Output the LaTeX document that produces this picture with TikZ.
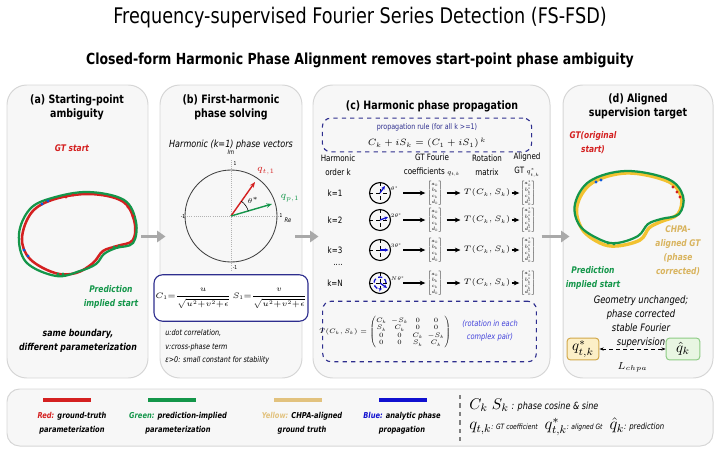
\RequirePackage{fix-cm}
\documentclass[tikz,border=0pt]{standalone}
\usepackage{amsmath}
\usepackage[no-math]{fontspec}
\setmainfont{DejaVu Sans}[FakeStretch=0.82]
\usetikzlibrary{arrows.meta,positioning,fit,calc}

\definecolor{gtred}{HTML}{D42020}
\definecolor{predgreen}{HTML}{14964A}
\definecolor{chpatan}{HTML}{E2C27E}
\definecolor{chpatext}{HTML}{D9B45E}
\definecolor{curveyellow}{HTML}{F2C230}
\definecolor{phaseblue}{HTML}{1010D0}
\definecolor{rulenavy}{HTML}{2E2E8E}
\definecolor{panelfill}{HTML}{F7F7F7}
\definecolor{panelline}{HTML}{D6D6D6}
\definecolor{flowgray}{HTML}{A9A9A9}
\definecolor{qbox}{HTML}{FCEFC7}
\definecolor{qboxline}{HTML}{D2A84A}
\definecolor{hatbox}{HTML}{E8F6E2}
\definecolor{hatboxline}{HTML}{8CCB84}

\begin{document}
\begin{tikzpicture}[
  x=0.025cm, y=-0.025cm,
  panel/.style={draw=panelline, fill=panelfill, line width=0.7pt,
                rounded corners=14pt, inner sep=0pt},
  flow/.style={-{Triangle[length=6pt,width=8pt]}, line width=2.3pt, draw=flowgray},
  headline/.style={font=\fontsize{15.3}{18}\selectfont},
  subline/.style={font=\fontsize{10.85}{13}\selectfont\bfseries},
  ptitle/.style={font=\fontsize{8.2}{9.9}\selectfont\bfseries, align=center},
  tag/.style={font=\fontsize{6.5}{9.9}\selectfont\bfseries\itshape, align=center},
  note/.style={font=\fontsize{5.6}{9.9}\selectfont\itshape, anchor=west, inner sep=0pt},
  hdr/.style={font=\fontsize{6.2}{9.9}\selectfont, align=center},
  ticklab/.style={font=\fontsize{3.8}{4}\selectfont, inner sep=0.5pt},
  redcurve/.style={draw=gtred, line width=1.8pt},
  greencurve/.style={draw=predgreen, line width=1.6pt},
  yellowcurve/.style={draw=curveyellow, line width=2.4pt},
  bead/.style={circle, inner sep=0pt, minimum size=2.4pt},
  vec/.style={-{Stealth[length=4pt,width=3.2pt]}, line width=1pt},
  refaxis/.style={draw=gray!60, densely dotted, line width=0.5pt},
  formbox/.style={draw=rulenavy, fill=white, line width=0.8pt, rounded corners=6pt,
                  minimum width=97.8pt, minimum height=33pt, inner sep=1pt},
  rulebox/.style={draw=rulenavy, dashed, line width=0.8pt, rounded corners=6pt, inner sep=0pt},
  dial/.style={circle, draw=black, line width=0.8pt, minimum size=14.9pt, inner sep=0pt},
  dialcross/.style={draw=black, densely dashed, line width=0.6pt},
  phasevec/.style={-{Stealth[length=2.6pt,width=2.4pt]}, draw=phaseblue, line width=0.9pt},
  colvec/.style={font=\fontsize{3.5}{4.3}\selectfont, inner sep=0pt},
  harmarrow/.style={-{Stealth[length=4pt,width=3.4pt]}, line width=0.9pt},
  legline/.style={line width=2.2pt},
  legtext/.style={font=\fontsize{5.8}{9.9}\selectfont\bfseries\itshape, align=center},
  lossbox/.style={draw, line width=0.7pt, rounded corners=2.5pt,
                  minimum height=15.6pt, inner sep=1pt, font=\fontsize{10.5}{11}\selectfont},
]
\useasboundingbox (0,0) rectangle (720,453);

% columns of panel (c), in pixels of the reference
\def\colK{335}
\def\colDial{380}
\def\colGT{435}
\def\colRot{487}
\def\colAl{528}

% #1 row id, #2 y, #3 order label, #4 visual angle of phase arrow, #5 angle label
\newcommand{\harmrow}[5]{%
  \node[hdr] (k#1) at (\colK,#2) {#3};
  \node[dial] (dial#1) at (\colDial,#2) {};
  \draw[dialcross] (dial#1.north) -- (dial#1.south);
  \draw[dialcross] (dial#1.west) -- (dial#1.east);
  \draw[phasevec] (dial#1.center) -- ++(-#4:8.5);
  \node[ticklab, anchor=west] (ang#1) at ($(dial#1.center)+(10,-4)$) {#5};
  \node[colvec] (gt#1) at (\colGT,#2)
        {$\begin{bmatrix}a_k\\ b_k\\ c_k\\ d_k\end{bmatrix}$};
  \node[font=\fontsize{5.6}{6}\selectfont, inner sep=0pt] (rot#1) at (\colRot,#2) {$T(C_k,S_k)$};
  \node[colvec] (al#1) at (\colAl,#2)
        {$\begin{bmatrix}a^*_k\\ b^*_k\\ c^*_k\\ d^*_k\end{bmatrix}$};
  \draw[harmarrow] ($(dial#1.east)+(12,0)$) -- ($(gt#1.west)+(-2,0)$);
  \draw[harmarrow] ($(gt#1.east)+(4,0)$) -- ($(rot#1.west)+(-3,0)$);
  \draw[harmarrow] ($(rot#1.east)+(1,0)$) -- ($(al#1.west)+(-1,0)$);
}

% titles
\node[headline] (head) at (360,18) {Frequency-supervised Fourier Series Detection (FS-FSD)};
\node[subline] (sub) at (360,60) {Closed-form Harmonic Phase Alignment removes start-point phase ambiguity};

% four panels and the legend strip
\node[panel, fit={(7,85) (148,378)}] (pa) {};
\node[panel, fit={(160,85) (302,378)}] (pb) {};
\node[panel, fit={(313,85) (550,378)}] (pc) {};
\node[panel, fit={(563,85) (713,378)}] (pd) {};
\node[panel, rounded corners=9pt, fit={(7,389) (713,446)}] (leg) {};

\draw[flow] ($(pa.east)+(-7,5)$) -- ($(pb.west)+(6,5)$);
\draw[flow] ($(pb.east)+(-7,5)$) -- ($(pc.west)+(6,5)$);
\draw[flow] ($(pc.east)+(-9,5)$) -- ($(pd.west)+(7,5)$);

% (a) starting-point ambiguity
\node[ptitle] (ta) at (77,107) {(a) Starting-point\\ambiguity};
\node[tag, text=gtred] (gtstart) at (72,148) {GT start};
\draw[redcurve] plot[smooth cycle, tension=0.6] coordinates
  {(22,238) (32,212) (55,199) (90,194) (122,201) (134,220) (133,240) (117,246)
   (103,251) (93,263) (76,273) (55,273) (30,259)};
\draw[greencurve] plot[smooth cycle, tension=0.6] coordinates
  {(19,234) (30,209) (52,198) (88,192) (124,200) (136,222) (133,243) (116,248)
   (104,254) (96,264) (80,271) (56,276) (26,262)};
\foreach \bx/\by in {42/204, 48/201, 24/250, 28/256}
  \node[bead, fill=phaseblue!70!cyan] at (\bx,\by) {};
\foreach \bx/\by in {66/197, 73/195, 128/207, 133/216}
  \node[bead, fill=gtred] at (\bx,\by) {};
\foreach \bx/\by in {58/274, 63/274, 114/247, 119/246}
  \node[bead, fill=predgreen] at (\bx,\by) {};
\node[tag, text=predgreen] (predstart) at (111,297) {Prediction\\implied start};
\node[tag, font=\fontsize{6.8}{10.3}\selectfont\bfseries\itshape] (same) at (78,341)
  {same boundary,\\different parameterization};

% (b) first-harmonic phase solving
\node[ptitle] (tb) at (231,107) {(b) First-harmonic\\phase solving};
\node[font=\fontsize{7}{8}\selectfont\itshape] (hk) at (231,145) {Harmonic (k=1) phase vectors};
\coordinate (o) at (231,216);
\draw[refaxis] (183,216) -- (281,216);
\draw[refaxis] (231,160) -- (231,271);
\draw[draw=black!75, line width=0.6pt] (o) circle[radius=46];
\node[ticklab, font=\fontsize{4.5}{5}\selectfont\itshape] (im) at (231,152) {Im};
\node[ticklab] (t1) at (235,164) {1};
\node[ticklab] (tm1) at (183,217) {-1};
\node[ticklab] (tr1) at (281,216) {1};
\node[ticklab, font=\fontsize{4.5}{5}\selectfont\itshape] (re) at (288,220) {Re};
\node[ticklab] (tb1) at (235,268) {-1};
\coordinate (qt) at (255,182);
\coordinate (qp) at (272,204);
\draw[vec, gtred] (o) -- (qt);
\draw[vec, predgreen] (o) -- (qp);
\draw[line width=0.4pt] (o) ++(-16:18) arc[start angle=-16, end angle=-55, radius=18];
\node[font=\fontsize{5}{6}\selectfont] (theta) at (253,200) {$\theta^*$};
\node[text=gtred, font=\fontsize{6.8}{8}\selectfont] (qtl) at (266,171) {$q_{t,1}$};
\node[text=predgreen, font=\fontsize{6.8}{8}\selectfont] (qpl) at (290,198) {$q_{p,1}$};
\node[formbox, font=\fontsize{5.6}{6.5}\selectfont] (fb) at (231,298)
  {$C_1{=}\dfrac{u}{\sqrt{u^2{+}v^2{+}\epsilon}}\,S_1{=}\dfrac{v}{\sqrt{u^2{+}v^2{+}\epsilon}}$};
\node[note] (nu) at (165,333) {u:dot correlation,};
\node[note] (nv) at (165,347) {v:cross-phase term};
\node[note] (ne) at (165,360) {ε>0: small constant for stability};

% (c) harmonic phase propagation
\node[ptitle] (tc) at (432,106) {(c) Harmonic phase propagation};
\node[rulebox, minimum width=148.8pt, minimum height=24pt] (rule) at (427,135) {};
\node[font=\fontsize{5.5}{6}\selectfont, text=rulenavy] (ruletxt) at (427,127)
  {propagation rule (for all k >=1)};
\node[font=\fontsize{6.5}{7.5}\selectfont] (rulemath) at (427,143) {$C_k+iS_k=(C_1+iS_1)^{\,k}$};
\node[hdr] (hk1) at (338,165) {Harmonic\\order k};
\node[hdr] (hk2) at (432,165) {GT Fourie\\coefficients {\fontsize{4.6}{5}\selectfont$q_{t,k}$}};
\node[hdr] (hk3) at (487,165) {Rotation\\matrix};
\node[hdr] (hk4) at (527,165) {Aligned\\GT {\fontsize{4.6}{5}\selectfont$q^*_{t,k}$}};
\harmrow{1}{193}{k=1}{55}{$\theta^*$}
\harmrow{2}{220}{k=2}{20}{$2\theta^*$}
\harmrow{3}{250}{k=3}{0}{$3\theta^*$}
\harmrow{N}{283}{k=N}{-35}{$N\theta^*$}
\draw[phasevec, densely dashed] ($(dialN.center)+(0:6)$) arc[start angle=0, end angle=-290, radius=6];
\node[hdr] (dots) at (338,265) {....};
\node[rulebox, minimum width=152pt, minimum height=43pt] (tbox) at (429.5,331.5) {};
\node[font=\fontsize{4.6}{5.4}\selectfont, inner sep=0pt] (tmat) at (385,332)
  {\arraycolsep=1.6pt$T(C_k,S_k)=\begin{pmatrix}C_k&-S_k&0&0\\ S_k&C_k&0&0\\
   0&0&C_k&-S_k\\ 0&0&S_k&C_k\end{pmatrix}$};
\node[font=\fontsize{5.8}{9.2}\selectfont\itshape, text=phaseblue!80!white, align=center]
  (rotnote) at (490,331) {(rotation in each\\complex pair)};

% (d) aligned supervision target
\node[ptitle] (td) at (638,106) {(d) Aligned\\supervision target};
\node[tag, text=gtred] (gtorig) at (593,143) {GT(original\\start)};
\draw[yellowcurve] plot[smooth cycle, tension=0.6] coordinates
  {(577,206) (592,183) (627,173) (667,181) (681,196) (678,214) (660,222) (649,228)
   (640,240) (617,246) (600,243) (582,229)};
\draw[greencurve] plot[smooth cycle, tension=0.6] coordinates
  {(575,204) (590,181) (626,171) (668,179) (683,196) (679,214) (661,219) (648,224)
   (638,236) (617,243) (601,240) (580,226)};
\foreach \bx/\by in {596/182, 601/180}
  \node[bead, fill=phaseblue!70!cyan] at (\bx,\by) {};
\foreach \bx/\by in {673/187, 677/192, 680/197}
  \node[bead, fill=gtred] at (\bx,\by) {};
\foreach \bx/\by in {608/243, 614/244}
  \node[bead, fill=predgreen] at (\bx,\by) {};
\node[tag, text=chpatext] (chpa) at (678,251) {CHPA-\\aligned GT\\(phase\\corrected)};
\node[tag, text=predgreen] (predd) at (593,278) {Prediction\\implied start};
\node[font=\fontsize{7.3}{9.9}\selectfont\itshape, align=center] (geo) at (641,322)
  {Geometry unchanged;\\phase corrected\\stable Fourier\\supervision};
\node[lossbox, draw=qboxline, fill=qbox, minimum width=22.7pt] (qs) at (583,349) {$q^*_{t,k}$};
\node[lossbox, draw=hatboxline, fill=hatbox, minimum width=24pt] (qh) at (683,349) {$\hat{q}_k$};
\draw[{Stealth[length=3pt]}-{Stealth[length=3pt]}, densely dashed, line width=0.7pt]
  (qs) -- node[below=6pt, font=\fontsize{7.2}{8}\selectfont] {$L_{chpa}$} (qh);

% legend
\draw[legline, gtred] (43,400) -- (91,400);
\draw[legline, predgreen] (148,400) -- (196,400);
\draw[legline, chpatan] (274,400) -- (322,400);
\draw[legline, phaseblue] (379,400) -- (427,400);
\node[legtext] (lr) at (72,423) {\textcolor{gtred}{Red:} ground-truth\\parameterization};
\node[legtext] (lg) at (178,423) {\textcolor{predgreen}{Green:} prediction-implied\\parameterization};
\node[legtext] (ly) at (302,423) {\textcolor{chpatan}{Yellow:} CHPA-aligned\\ground truth};
\node[legtext] (lb) at (402,423) {\textcolor{phaseblue}{Blue:} analytic phase\\propagation};
\draw[draw=gray, line width=0.9pt, dash pattern=on 3pt off 3pt] (460,395) -- (460,442);
\node[anchor=west, inner sep=0pt] (symcs) at (469,405)
  {\fontsize{11}{12}\selectfont$C_k\ S_k$\fontsize{7}{8}\selectfont\itshape\ : phase cosine \& sine};
\node[anchor=west, inner sep=0pt] (symq) at (469,427)
  {\fontsize{12}{13}\selectfont$q_{t,k}$\fontsize{5.2}{6}\selectfont\itshape: GT coefficient\hspace{5pt}%
   \fontsize{12}{13}\selectfont$q^*_{t,k}$\fontsize{5.2}{6}\selectfont\itshape: aligned Gt\hspace{5pt}%
   \fontsize{12}{13}\selectfont$\hat{q}_k$\fontsize{6}{7}\selectfont\itshape: prediction};
\end{tikzpicture}
\end{document}
